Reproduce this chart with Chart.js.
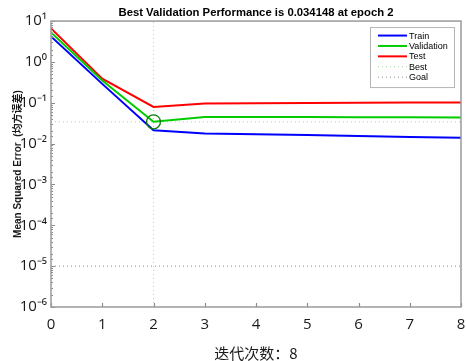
<!DOCTYPE html>
<html>
<head>
<meta charset="utf-8">
<script src="https://cdn.jsdelivr.net/npm/chart.js@4.4.0/dist/chart.umd.min.js"></script>
<style>
html, body { margin: 0; padding: 0; background: #fff; }
#grafico { display: block; }
</style>
</head>
<body>
<canvas id="grafico" width="466" height="361"></canvas>
<script>
// DATOS:
const epocas = [0, 1, 2, 3, 4, 5, 6, 7, 8];
const train = [4.2, 0.29, 0.0211, 0.0178, 0.0170, 0.0162, 0.0154, 0.0146, 0.0139];
const validation = [5.25, 0.35, 0.034148, 0.045, 0.0448, 0.0445, 0.0443, 0.044, 0.0437];
const test = [6.6, 0.39, 0.079, 0.096, 0.097, 0.098, 0.1, 0.101, 0.102];
const mejorEpoca = 2;
const mejorValor = 0.034148;
const meta = 1e-5;
const yMin = 1e-6;
const yMax = 10;
const xMin = 0;
const xMax = 8;
const totalIteraciones = 8;

const superindices = { "-": "⁻", "0": "⁰", "1": "¹", "2": "²", "3": "³", "4": "⁴", "5": "⁵", "6": "⁶", "7": "⁷", "8": "⁸", "9": "⁹" };

function esPotencia(v) {
    const e = Math.log10(v);
    return Math.abs(e - Math.round(e)) < 1e-6;
}

function etiquetaPotencia(v) {
    const e = String(Math.round(Math.log10(v)));
    return "10" + e.split("").map(c => superindices[c]).join("");
}

function puntos(valores) {
    return epocas.map((x, i) => ({ x: x, y: valores[i] }));
}

// PLUGINS:
const marco = {
    id: "marco",
    afterDraw(chart) {
        const ctx = chart.ctx;
        const area = chart.chartArea;
        const x = chart.scales.x;
        const y = chart.scales.y;
        ctx.save();
        ctx.strokeStyle = "#8c8c8c";
        ctx.lineWidth = 1.2;
        ctx.beginPath();
        y.ticks.forEach(t => {
            const py = Math.round(y.getPixelForValue(t.value)) + 0.5;
            const largo = esPotencia(t.value) ? 4 : 2;
            ctx.moveTo(area.left, py);
            ctx.lineTo(area.left + largo, py);
        });
        x.ticks.forEach(t => {
            const px = Math.round(x.getPixelForValue(t.value)) + 0.5;
            ctx.moveTo(px, area.bottom);
            ctx.lineTo(px, area.bottom - 4);
        });
        ctx.stroke();
        ctx.lineWidth = 1.5;
        ctx.strokeStyle = "#9a9a9a";
        ctx.strokeRect(area.left, area.top, area.right - area.left, area.bottom - area.top);
        ctx.restore();
    }
};

const leyenda = {
    id: "leyenda",
    afterDraw(chart) {
        const ctx = chart.ctx;
        const area = chart.chartArea;
        const items = chart.data.datasets.filter(ds => ds.enLeyenda);
        const ancho = 84;
        const alto = 60;
        const x0 = area.right - 7 - ancho;
        const y0 = area.top + 6;
        ctx.save();
        ctx.fillStyle = "#fff";
        ctx.fillRect(x0, y0, ancho, alto);
        ctx.strokeStyle = "#b4b4b4";
        ctx.lineWidth = 1;
        ctx.strokeRect(x0 + 0.5, y0 + 0.5, ancho, alto);
        ctx.font = "9px 'Liberation Sans', Arial, sans-serif";
        ctx.textBaseline = "middle";
        ctx.fillStyle = "#000";
        items.forEach((ds, i) => {
            const py = y0 + 8.5 + i * 10.4;
            ctx.beginPath();
            ctx.strokeStyle = ds.borderColor;
            ctx.lineWidth = ds.borderWidth;
            ctx.setLineDash(ds.borderDash || []);
            ctx.moveTo(x0 + 8, py);
            ctx.lineTo(x0 + 37, py);
            ctx.stroke();
            ctx.setLineDash([]);
            ctx.fillText(ds.label, x0 + 39, py + 0.5);
        });
        ctx.restore();
    }
};

// GRAFICO:
const ctx = document.getElementById("grafico").getContext("2d");

new Chart(ctx, {
    type: "line",
    data: {
        datasets: [
            {
                label: "Mejor",
                data: [{ x: mejorEpoca, y: mejorValor }],
                showLine: false,
                pointRadius: 7,
                pointBorderWidth: 1.3,
                pointBorderColor: "#0b7d0b",
                pointBackgroundColor: "rgba(0,0,0,0)"
            },
            {
                label: "Train",
                enLeyenda: true,
                data: puntos(train),
                borderColor: "#0000ff",
                borderWidth: 2,
                pointRadius: 0
            },
            {
                label: "Validation",
                enLeyenda: true,
                data: puntos(validation),
                borderColor: "#00cc00",
                borderWidth: 2,
                pointRadius: 0
            },
            {
                label: "Test",
                enLeyenda: true,
                data: puntos(test),
                borderColor: "#ff0000",
                borderWidth: 2,
                pointRadius: 0
            },
            {
                label: "Best",
                enLeyenda: true,
                data: [{ x: mejorEpoca, y: yMin }, { x: mejorEpoca, y: yMax }],
                borderColor: "rgba(60,170,60,0.45)",
                borderWidth: 1,
                borderDash: [1, 3],
                pointRadius: 0
            },
            {
                label: "Goal",
                enLeyenda: true,
                data: [{ x: xMin, y: meta }, { x: xMax, y: meta }],
                borderColor: "#8a8a8a",
                borderWidth: 1,
                borderDash: [1, 3],
                pointRadius: 0
            },
            {
                label: "Best",
                data: [{ x: xMin, y: mejorValor }, { x: xMax, y: mejorValor }],
                borderColor: "rgba(60,170,60,0.45)",
                borderWidth: 1,
                borderDash: [1, 3],
                pointRadius: 0
            }
        ]
    },
    options: {
        responsive: false,
        animation: false,
        layout: { autoPadding: false, padding: { right: 5 } },
        plugins: {
            legend: { display: false },
            tooltip: { enabled: false },
            title: {
                display: true,
                fullSize: false,
                text: "Best Validation Performance is " + mejorValor + " at epoch " + mejorEpoca,
                color: "#000",
                font: { family: "'Liberation Sans', Arial, sans-serif", size: 11.3, weight: "bold", lineHeight: 1.2 },
                padding: { top: 6, bottom: 1.5 }
            }
        },
        scales: {
            x: {
                type: "linear",
                min: xMin,
                max: xMax,
                afterFit: function(scale) {
                    scale.height = 54;
                    scale.paddingLeft = 0;
                    scale.paddingRight = 0;
                },
                grid: { display: false, drawTicks: false },
                border: { display: false },
                ticks: {
                    stepSize: 1,
                    maxRotation: 0,
                    padding: 9,
                    color: "#1a1a1a",
                    font: { family: "'Open Sans', sans-serif", size: 15 }
                },
                title: {
                    display: true,
                    text: "迭代次数：" + totalIteraciones,
                    color: "#1a1a1a",
                    font: { family: "'Noto Sans CJK SC', sans-serif", size: 15, lineHeight: 1 },
                    padding: { top: 0, bottom: 0 }
                }
            },
            y: {
                type: "logarithmic",
                min: yMin,
                max: yMax,
                afterFit: function(scale) {
                    scale.width = 51;
                    scale.paddingTop = 0;
                    scale.paddingBottom = 0;
                },
                grid: { display: false, drawTicks: false },
                border: { display: false },
                ticks: {
                    autoSkip: false,
                    padding: 4,
                    color: "#1a1a1a",
                    font: { family: "'Open Sans', sans-serif", size: 15 },
                    callback: function(value) {
                        return esPotencia(value) ? etiquetaPotencia(value) : "";
                    }
                },
                title: {
                    display: true,
                    text: "Mean Squared Error  (均方误差)",
                    color: "#1a1a1a",
                    font: { family: "'Liberation Sans', Arial, 'Noto Sans CJK SC', sans-serif", size: 10, weight: "bold", lineHeight: 1.2 },
                    padding: { top: 12, bottom: 0 }
                }
            }
        }
    },
    plugins: [marco, leyenda]
});
</script>
</body>
</html>
